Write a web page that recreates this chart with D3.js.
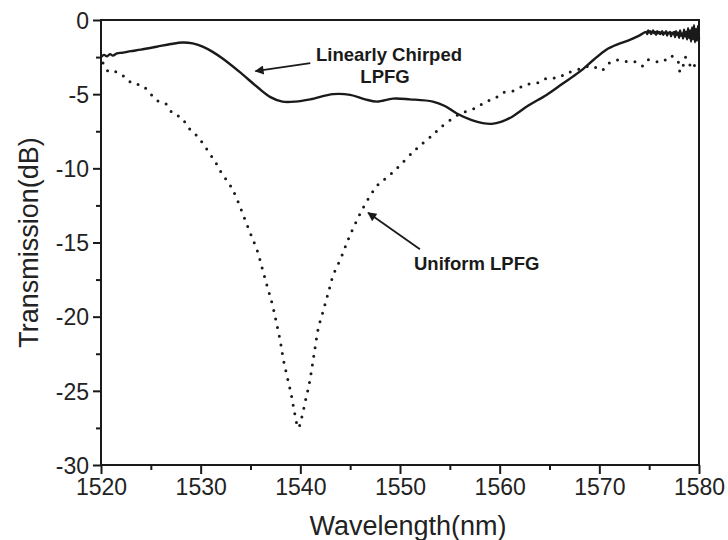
<!DOCTYPE html>
<html>
<head>
<meta charset="utf-8">
<script src="https://cdn.jsdelivr.net/npm/d3@7"></script>
<style>
  html, body { margin: 0; padding: 0; background: #fff; }
  svg { display: block; font-family: "Liberation Sans", Arial, sans-serif; }
</style>
</head>
<body>
<svg id="chart" width="728" height="540"></svg>
<script>
// ---- Data ----
const xTicks = [1520, 1530, 1540, 1550, 1560, 1570, 1580];
const yTicks = [0, -5, -10, -15, -20, -25, -30];
const xMinorTicks = [1525, 1535, 1545, 1555, 1565, 1575];
const yMinorTicks = [-2.5, -7.5, -12.5, -17.5, -22.5, -27.5];

// Linearly chirped LPFG (solid)
const chirpedWl = [1520, 1520.3, 1520.6, 1520.9, 1521.2, 1521.6, 1522.2, 1523, 1524, 1525.6, 1527, 1528.2, 1529.2, 1530.2,
  1531.2, 1532.2, 1533.9, 1535.65, 1537, 1538.2, 1539.5, 1541, 1543.3, 1545, 1546.5, 1547.7, 1549.3, 1551, 1553.3,
  1554.5, 1555.7, 1557.2, 1558.3, 1559.2, 1560.2, 1561.3, 1562.8, 1564.7, 1566.3, 1568, 1569.4, 1570.7,
  1572, 1573, 1574,
  1574.7, 1574.8, 1574.9, 1575.0, 1575.1, 1575.2, 1575.3, 1575.4, 1575.5, 1575.6, 1575.7, 1575.8, 1575.9,
  1576.0, 1576.1, 1576.2, 1576.3, 1576.4, 1576.5, 1576.6, 1576.7, 1576.8, 1576.9, 1577.0, 1577.1, 1577.2,
  1577.3, 1577.4, 1577.5, 1577.6, 1577.7, 1577.8, 1577.9, 1578.0, 1578.1, 1578.2, 1578.3, 1578.4, 1578.5,
  1578.6, 1578.7, 1578.8, 1578.9, 1579.0, 1579.1, 1579.2, 1579.3, 1579.4, 1579.5, 1579.6, 1579.7, 1579.8,
  1579.9, 1580];
const chirpedDb = [-2.5, -2.35, -2.45, -2.3, -2.4, -2.25, -2.2, -2.1, -2.0, -1.8, -1.62, -1.52, -1.58, -1.8,
  -2.15, -2.6, -3.5, -4.5, -5.2, -5.5, -5.5, -5.35, -5.0, -5.05, -5.35, -5.5, -5.3, -5.35, -5.5,
  -5.8, -6.3, -6.75, -6.95, -7.0, -6.85, -6.5, -5.8, -5.05, -4.3, -3.5, -2.7, -2.0,
  -1.6, -1.35, -1.05,
  -0.8, -0.95, -0.7, -0.85, -0.75, -0.95, -0.8, -0.7, -0.9, -0.8, -1.0, -0.75, -0.9,
  -0.8, -0.95, -0.85, -0.75, -1.0, -0.85, -0.9, -0.75, -1.05, -0.85, -0.9, -0.8, -1.1,
  -0.85, -0.95, -0.8, -1.15, -0.75, -1.0, -0.85, -1.2, -0.7, -1.05, -0.9, -1.25, -0.65,
  -1.1, -0.8, -1.3, -0.55, -1.2, -0.7, -1.45, -0.5, -1.3, -0.35, -1.5, -0.6, -1.4,
  -0.4, -1.3];

// Uniform LPFG (dotted)
const uniformWl = [1520.2, 1520.8, 1521.6, 1522.4, 1523.2, 1524.1, 1525.0, 1525.8, 1526.6, 1527.2, 1528.1, 1528.7,
  1529.6, 1530.2, 1530.9, 1531.5, 1532.0, 1532.6, 1533.1, 1533.6, 1534.3, 1535.0, 1535.7, 1536.2, 1536.7,
  1537.2, 1537.6, 1538.0, 1538.3, 1538.7, 1539.1, 1539.4, 1539.8, 1540.1, 1540.5, 1540.9, 1541.2, 1541.5,
  1541.8, 1542.3, 1542.8, 1543.3, 1544.1, 1544.8, 1545.6, 1546.6, 1547.8, 1548.7, 1549.7, 1551.3, 1552.3,
  1553.2, 1554.0, 1555.8, 1557.7, 1558.6, 1559.5, 1560.3, 1561.3, 1562.2, 1563.0, 1564.0, 1564.8, 1565.8,
  1566.7, 1568.0, 1569.3, 1570.2, 1571.0, 1571.8, 1572.7, 1573.5, 1574.3, 1574.8, 1575.6, 1576.4, 1577.1,
  1577.9, 1578.1, 1578.4, 1578.6, 1578.9, 1579.4, 1579.7, 1580];
const uniformDb = [-2.9, -3.5, -3.5, -3.85, -4.3, -4.4, -5.0, -5.5, -5.7, -6.3, -6.6, -7.2,
  -7.8, -8.3, -9.0, -9.6, -10.2, -10.8, -11.3, -12.0, -13.2, -14.4, -15.6, -16.8, -18.0,
  -19.2, -20.4, -21.7, -22.9, -24.1, -25.3, -26.4, -27.5, -26.9, -25.7, -24.5, -23.3, -22.0,
  -20.8, -19.6, -18.4, -17.2, -16.0, -14.8, -13.6, -12.3, -11.1, -10.6, -10.0, -8.9, -8.3,
  -7.8, -7.3, -6.4, -5.9, -5.5, -5.3, -4.9, -4.8, -4.5, -4.3, -4.2, -3.9, -3.9,
  -3.6, -3.3, -3.1, -3.4, -2.9, -2.7, -2.8, -2.8, -3.1, -2.7, -2.8, -2.8, -2.4,
  -2.8, -3.5, -3.1, -2.5, -2.8, -3.3, -2.8, -3.0];

const chirpedLabel = ["Linearly Chirped", "LPFG"];
const uniformLabel = "Uniform LPFG";
const xTitle = "Wavelength(nm)";
const yTitle = "Transmission(dB)";

// ---- Layout ----
const svg = d3.select("#chart");
const plotLeft = 101, plotRight = 699, plotTop = 20, plotBottom = 465;
const x = d3.scaleLinear().domain([1520, 1580]).range([plotLeft, plotRight]);
const y = d3.scaleLinear().domain([-30, 0]).range([plotBottom, plotTop]);
const ink = "#1a1a1a";

// defs: arrow head
svg.append("defs").append("marker")
  .attr("id", "arrow").attr("viewBox", "0 0 10 10")
  .attr("refX", 9).attr("refY", 5)
  .attr("markerWidth", 14).attr("markerHeight", 9)
  .attr("markerUnits", "userSpaceOnUse")
  .attr("orient", "auto")
  .append("path").attr("d", "M0,0 L10,5 L0,10 Z").attr("fill", ink);

// ---- Curves ----
const chirped = chirpedWl.map((w, i) => [w, chirpedDb[i]]);
const uniform = uniformWl.map((w, i) => [w, uniformDb[i]]);

const lineSmooth = d3.line().x(d => x(d[0])).y(d => y(d[1])).curve(d3.curveCatmullRom.alpha(0.5));

svg.append("path").datum(uniform)
  .attr("d", lineSmooth)
  .attr("fill", "none").attr("stroke", ink)
  .attr("stroke-width", 3).attr("stroke-linecap", "round")
  .attr("stroke-dasharray", "0 8.8");

svg.append("path").datum(chirped)
  .attr("d", lineSmooth)
  .attr("fill", "none").attr("stroke", ink)
  .attr("stroke-width", 2.4).attr("stroke-linejoin", "round");

// ---- Axes ----
const xAxis = d3.axisBottom(x).tickValues(xTicks).tickSize(9).tickPadding(5).tickFormat(d3.format("d"));
const yAxis = d3.axisLeft(y).tickValues(yTicks).tickSize(8).tickPadding(4).tickFormat(d => String(d));

const gx = svg.append("g").attr("transform", `translate(0,${plotBottom})`).call(xAxis);
const gy = svg.append("g").attr("transform", `translate(${plotLeft},0)`).call(yAxis);
[gx, gy].forEach(g => {
  g.select(".domain").remove();
  g.selectAll(".tick line").attr("stroke", ink).attr("stroke-width", 2);
  g.selectAll(".tick text").attr("fill", "#222").style("font-size", "23px")
    .style("font-family", "'Liberation Sans', Arial, sans-serif");
});
gy.selectAll(".tick text").attr("dy", "0.36em");

svg.append("g").attr("transform", `translate(0,${plotBottom})`)
  .call(d3.axisBottom(x).tickValues(xMinorTicks).tickSize(5).tickFormat(""))
  .call(g => g.select(".domain").remove())
  .selectAll(".tick line").attr("stroke", ink).attr("stroke-width", 2);
svg.append("g").attr("transform", `translate(${plotLeft},0)`)
  .call(d3.axisLeft(y).tickValues(yMinorTicks).tickSize(5).tickFormat(""))
  .call(g => g.select(".domain").remove())
  .selectAll(".tick line").attr("stroke", ink).attr("stroke-width", 2);

// frame
svg.append("rect")
  .attr("x", plotLeft).attr("y", plotTop)
  .attr("width", plotRight - plotLeft).attr("height", plotBottom - plotTop)
  .attr("fill", "none").attr("stroke", ink).attr("stroke-width", 2);

// ---- Titles ----
svg.append("text")
  .attr("x", 408).attr("y", 535)
  .attr("text-anchor", "middle")
  .attr("fill", "#222")
  .style("font-size", "27px")
  .text(xTitle);

svg.append("text")
  .attr("transform", `translate(38,${(plotTop + plotBottom) / 2}) rotate(-90)`)
  .attr("text-anchor", "middle")
  .attr("fill", "#222")
  .style("font-size", "27px")
  .text(yTitle);

// ---- Annotations ----
const ann = svg.append("g").attr("fill", ink)
  .style("font-size", "18.5px").style("font-weight", "bold");
ann.append("text").attr("x", 389).attr("y", 61).attr("text-anchor", "middle").text(chirpedLabel[0]);
ann.append("text").attr("x", 385).attr("y", 83).attr("text-anchor", "middle").text(chirpedLabel[1]);
ann.append("text").attr("x", 414).attr("y", 270).attr("text-anchor", "start").text(uniformLabel);

svg.append("line")
  .attr("x1", x(1541.0)).attr("y1", y(-2.9))
  .attr("x2", x(1535.5)).attr("y2", y(-3.45))
  .attr("stroke", ink).attr("stroke-width", 1.8)
  .attr("marker-end", "url(#arrow)");
svg.append("line")
  .attr("x1", x(1552.0)).attr("y1", y(-15.45))
  .attr("x2", x(1546.8)).attr("y2", y(-13.0))
  .attr("stroke", ink).attr("stroke-width", 1.8)
  .attr("marker-end", "url(#arrow)");
</script>
</body>
</html>
